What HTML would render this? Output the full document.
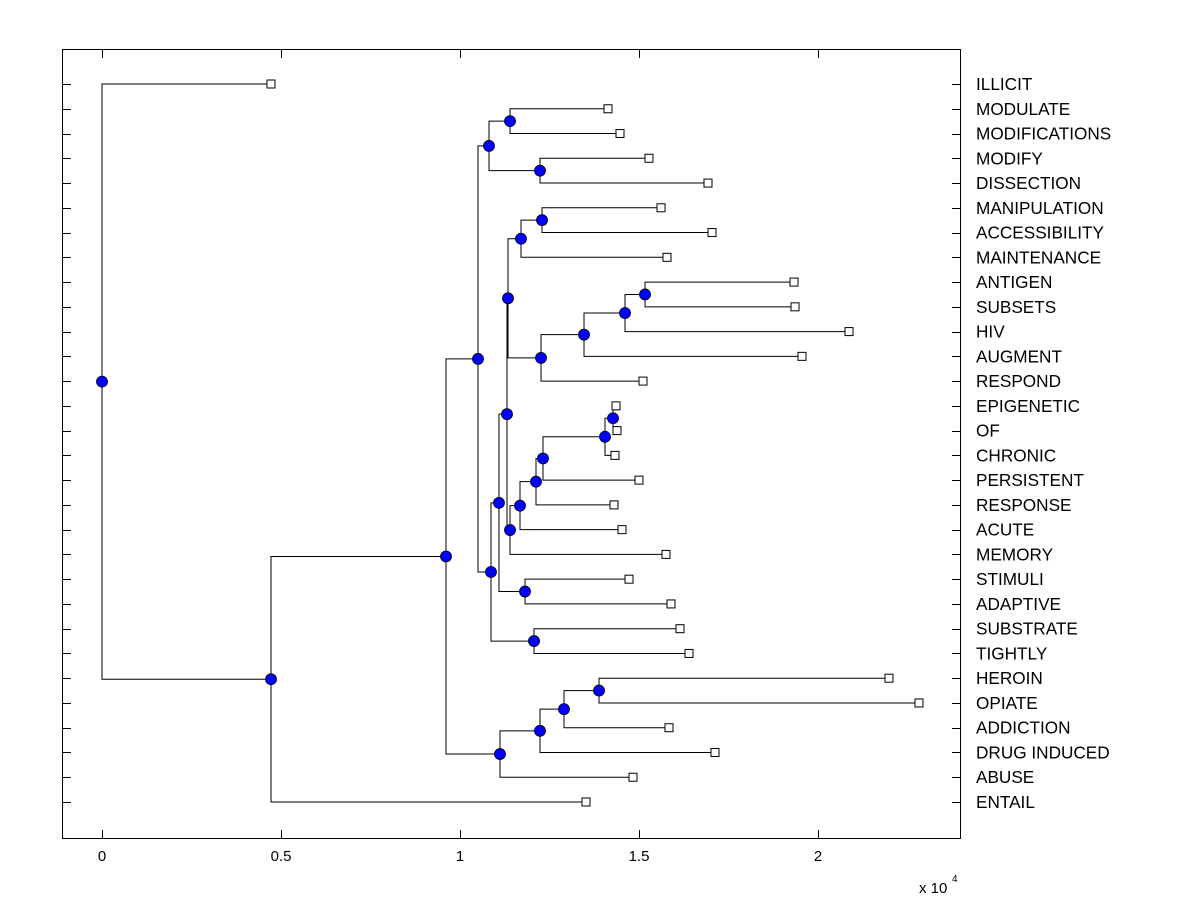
<!DOCTYPE html>
<html><head><meta charset="utf-8"><style>
html,body{margin:0;padding:0;background:#fff;}
svg text{font-family:"Liberation Sans",Arial,sans-serif;}
</style></head><body>
<svg id="chart" width="1200" height="900" xmlns="http://www.w3.org/2000/svg">
<rect x="0" y="0" width="1200" height="900" fill="#fff"/>
<g id="plot"></g>
<rect x="62.5" y="49.5" width="898" height="789" fill="none" stroke="#000" stroke-width="1"/>
</svg>
<script>
const leafLabels = ["ILLICIT","MODULATE","MODIFICATIONS","MODIFY","DISSECTION","MANIPULATION","ACCESSIBILITY","MAINTENANCE","ANTIGEN","SUBSETS","HIV","AUGMENT","RESPOND","EPIGENETIC","OF","CHRONIC","PERSISTENT","RESPONSE","ACUTE","MEMORY","STIMULI","ADAPTIVE","SUBSTRATE","TIGHTLY","HEROIN","OPIATE","ADDICTION","DRUG INDUCED","ABUSE","ENTAIL"];
const leafHeights = [4720,14134,14469,15279,16927,15615,17039,15782,19330,19358,20866,19553,15112,14358,14385,14330,15000,14302,14525,15754,14721,15894,16145,16397,21983,22821,15838,17123,14832,13520];
const nodeNames = ["root","A","B","C","M2","M1","M3","S","T","Q","N3","N2","N1","P1","P2","P3","P4","R","W","X","Y","Z","ZZ","U","V","D","D1","D2","D3"];
const nodeHeights = [0,4721,9609,10503,10810,11397,12235,10866,11089,11313,11341,11704,12291,12263,13464,14609,15168,11397,11676,12123,12318,14050,14274,11816,12067,11117,12235,12905,13883];
const nodeLeft = ["L0","B","C","M2","M1","L1","L3","T","Q","N3","N2","N1","L5","P2","P3","P4","L8","W","X","Y","Z","ZZ","L13","L20","L22","D1","D2","D3","L24"];
const nodeRight = ["A","L29","D","S","M3","L2","L4","V","U","R","P1","L7","L6","L12","L11","L10","L9","L19","L18","L17","L16","L15","L14","L21","L23","L28","L27","L26","L25"];
const xTickVals = [0,0.5,1,1.5,2];
const xTickLabels = ["0","0.5","1","1.5","2"];

const NS="http://www.w3.org/2000/svg";
const svg=document.getElementById('chart');
const plot=document.getElementById('plot');
function xs(v){return 102+v*0.0358;}
function ys(i){return 84+i*(802-84)/29;}
function mk(tag,attrs,parent){const e=document.createElementNS(NS,tag);for(const k in attrs)e.setAttribute(k,attrs[k]);(parent||plot).appendChild(e);return e;}

const yCache={};
function info(id){
  if(id[0]==='L'&&!isNaN(+id.slice(1))){const i=+id.slice(1);return {x:xs(leafHeights[i]),y:ys(i)};}
  const k=nodeNames.indexOf(id);
  if(yCache[id]===undefined){const a=info(nodeLeft[k]),b=info(nodeRight[k]);yCache[id]=(a.y+b.y)/2;}
  return {x:xs(nodeHeights[k]),y:yCache[id]};
}
nodeNames.forEach((n,k)=>{
  const p=info(n),a=info(nodeLeft[k]),b=info(nodeRight[k]);
  const path=mk('path',{d:`M${a.x},${a.y}H${p.x}V${b.y}H${b.x}`,fill:'none',stroke:'#000','stroke-width':1});
  
  
});
leafLabels.forEach((l,i)=>{
  const p=info('L'+i);
  const r=mk('rect',{x:p.x-4,y:p.y-4,width:8,height:8,fill:'#fff',stroke:'#000','stroke-width':1});
  
  
});
nodeNames.forEach(n=>{
  const p=info(n);
  const c=mk('circle',{cx:p.x,cy:p.y,r:5.5,fill:'#0000ff',stroke:'#000','stroke-width':0.8});
  
  
});
leafLabels.forEach((l,i)=>{
  const y=Math.round(ys(i))+0.5;
  const t1=mk('path',{d:`M62,${y}H71M952,${y}H960`,stroke:'#000','stroke-width':1},svg);
  
  
  const t=mk('text',{x:976,y:ys(i)+6,'font-size':17.2,fill:'#000'},svg);
  t.textContent=l;
  
  
});
xTickVals.forEach((v,i)=>{
  const x=Math.round(xs(v*10000))+0.5;
  const tk=mk('path',{d:`M${x},49V58M${x},830V838`,stroke:'#000','stroke-width':1},svg);
  
  
  const t=mk('text',{x:xs(v*10000),y:861,'font-size':15,'text-anchor':'middle',fill:'#000'},svg);
  t.textContent=xTickLabels[i];
  
  
});
const ex=mk('text',{x:919,y:893,'font-size':15,fill:'#000'},svg);
ex.textContent='x 10';


const ex2=mk('text',{x:952,y:882,'font-size':10,fill:'#000'},svg);
ex2.textContent='4';


</script>
</body></html>
